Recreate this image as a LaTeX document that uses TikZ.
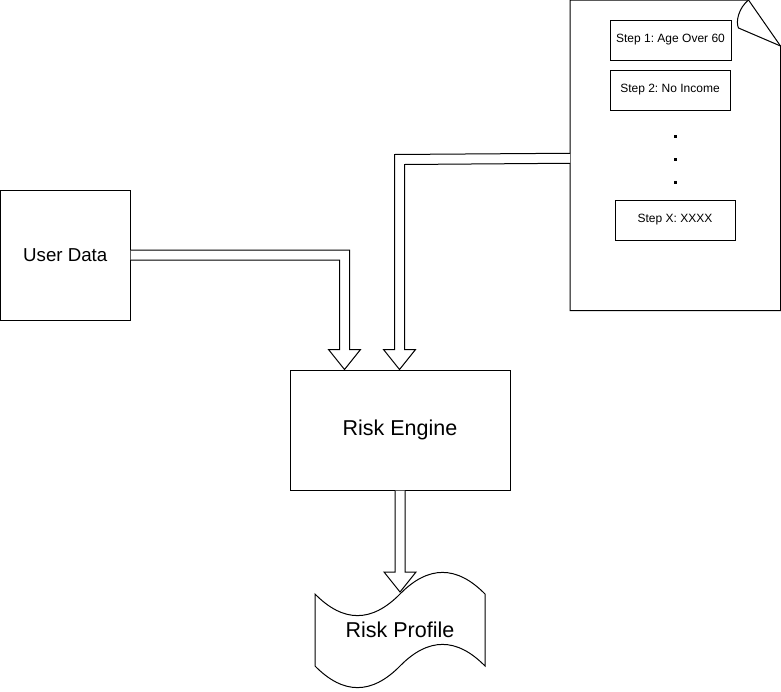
\documentclass[tikz,border=0pt]{standalone}
\usepackage{fontspec}
\setmainfont{Liberation Sans}
\usetikzlibrary{calc}
\frenchspacing
\tikzset{
  box/.style={draw, fill=white, inner sep=0pt},
  stepbox/.style={box, minimum height=40, font=\fontsize{12}{14}\selectfont\frenchspacing},
  blockarrow/.style={draw, fill=white, line join=miter},
  outline/.style={draw, line join=miter}
}
\begin{document}
\begin{tikzpicture}[x=1pt,y=-1pt,line width=1pt]
\useasboundingbox (0,0) rectangle (781,691);

% document with curled corner
\node[inner sep=0pt, minimum width=209.5, minimum height=309.5] (doc) at (675.25,155.25) {};
\draw[outline, fill=white] (doc.north west) -- ($(doc.north east)+(-32,0)$) -- ($(doc.north east)+(0,46)$) -- (doc.south east) -- (doc.south west) -- cycle;
\draw[outline] ($(doc.north east)+(-32,0)$) .. controls ($(doc.north east)+(-42,8)$) and ($(doc.north east)+(-45,22)$) .. ($(doc.north east)+(-42,28)$) -- ($(doc.north east)+(0,46)$);

\node[stepbox, minimum width=121] (s1) at (670.5,40) {Step 1: Age Over 60};
\node[stepbox, minimum width=120] (s2) at (670,90) {Step 2: No Income};
\node[stepbox, minimum width=120] (sx) at (675,220) {Step X: XXXX};
\fill (673.5,134.5) rectangle (676.5,137.5);
\fill (673.5,157.5) rectangle (676.5,160.5);
\fill (673.5,180.5) rectangle (676.5,183.5);

% boxes
\node[box, minimum width=129.5, minimum height=130, font=\fontsize{18.7}{22}\selectfont] (ud) at (65.25,255) {User Data};
\node[box, minimum width=220, minimum height=120, font=\fontsize{21.5}{25}\selectfont] (re) at (400,430) {Risk Engine};

% tape shape for risk profile
\draw[outline] (315,594) .. controls (343.33,622.8) and (371.67,622.8) .. (400,594)
  .. controls (428.33,565.2) and (456.67,565.2) .. (485,594)
  -- (485,666) .. controls (456.67,637.2) and (428.33,637.2) .. (400,666)
  .. controls (371.67,694.8) and (343.33,694.8) .. (315,666) -- cycle;
\node[font=\fontsize{21.5}{25}\selectfont, inner sep=0pt] (rp) at (400,630) {Risk Profile};

% block arrow: user data -> risk engine
\coordinate (a1s) at (ud.east);
\coordinate (a1t) at ($(re.north west)+(55,0)$);
\draw[blockarrow] ($(a1s)+(0,-5)$) -- ($(a1t|-a1s)+(5,-5)$) -- ($(a1t)+(5,-20)$) -- ($(a1t)+(16,-20)$) -- (a1t)
  -- ($(a1t)+(-16,-20)$) -- ($(a1t)+(-5,-20)$) -- ($(a1t|-a1s)+(-5,5)$) -- ($(a1s)+(0,5)$);

% block arrow: rules document -> risk engine
\coordinate (a2s) at ($(doc.west)+(0,3)$);
\coordinate (a2t) at ($(re.north west)+(110,0)$);
\draw[blockarrow] ($(a2s)+(0,-5)$) -- ($(a2t)+(-5,-215)$) -- ($(a2t)+(-5,-20)$) -- ($(a2t)+(-16,-20)$) -- (a2t)
  -- ($(a2t)+(16,-20)$) -- ($(a2t)+(5,-20)$) -- ($(a2t)+(5,-205)$) -- ($(a2s)+(0,5)$);

% block arrow: risk engine -> risk profile
\coordinate (a3s) at (re.south);
\coordinate (a3t) at ($(rp.center)+(0,-38)$);
\draw[blockarrow] ($(a3s)+(-5,0)$) -- ($(a3t)+(-5,-20)$) -- ($(a3t)+(-16,-20)$) -- (a3t)
  -- ($(a3t)+(16,-20)$) -- ($(a3t)+(5,-20)$) -- ($(a3s)+(5,0)$);
\end{tikzpicture}
\end{document}
